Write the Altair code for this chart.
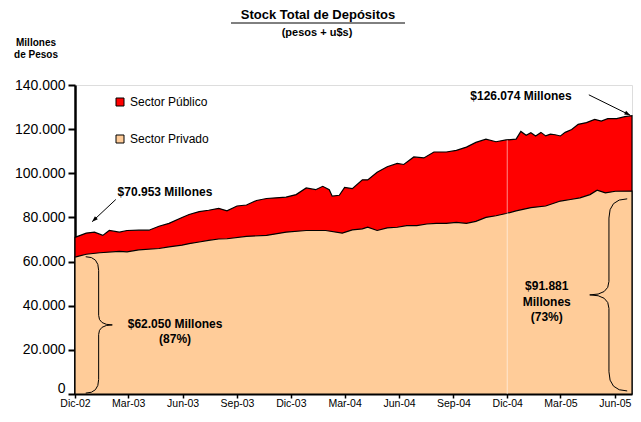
import altair as alt
import pandas as pd

# ---------------- data ----------------
dates_total = [
    "2002-12-01", "2002-12-20", "2003-01-03", "2003-01-17", "2003-01-28", "2003-02-14",
    "2003-02-27", "2003-03-19", "2003-04-05", "2003-04-22", "2003-05-09", "2003-05-31",
    "2003-06-12", "2003-06-29", "2003-07-15", "2003-08-01", "2003-08-15", "2003-09-01",
    "2003-09-17", "2003-10-04", "2003-10-21", "2003-11-06", "2003-11-23", "2003-12-10",
    "2003-12-27", "2004-01-12", "2004-01-24", "2004-02-04", "2004-02-09", "2004-02-21",
    "2004-03-01", "2004-03-14", "2004-03-31", "2004-04-09", "2004-04-25", "2004-05-12",
    "2004-05-29", "2004-06-09", "2004-06-26", "2004-07-13", "2004-07-30", "2004-08-20",
    "2004-09-06", "2004-09-23", "2004-10-09", "2004-10-26", "2004-11-12", "2004-11-29",
    "2004-12-16", "2004-12-24", "2005-01-02", "2005-01-10", "2005-01-18", "2005-01-27",
    "2005-02-04", "2005-02-12", "2005-02-20", "2005-03-01", "2005-03-09", "2005-03-20",
    "2005-03-31", "2005-04-14", "2005-04-28", "2005-05-09", "2005-05-20", "2005-06-04",
    "2005-06-18", "2005-06-30",
]
total_values = [
    70953, 72890, 73330, 71860, 74080, 73330,
    74080, 74220, 74220, 76000, 77330, 80000,
    81330, 82660, 83240, 84130, 82970, 85190,
    85640, 87690, 88570, 88880, 89190, 90350,
    93330, 92570, 94100, 92570, 89640, 90050,
    93640, 93030, 97020, 97020, 100440, 102970,
    104440, 103990, 107420, 106970, 109640, 109640,
    110350, 111860, 113990, 115450, 114300, 115100,
    115450, 118980, 117200, 118380, 116910, 118530,
    116930, 117760, 117460, 116910, 118530, 119800,
    122200, 122960, 124440, 123660, 124750, 124750,
    125640, 126074,
]

dates_privado = [
    "2002-12-01", "2002-12-20", "2003-01-12", "2003-02-14", "2003-02-27", "2003-03-19",
    "2003-04-22", "2003-05-09", "2003-05-31", "2003-06-12", "2003-06-29", "2003-07-15",
    "2003-08-01", "2003-08-15", "2003-09-17", "2003-10-21", "2003-11-23", "2003-12-27",
    "2004-01-29", "2004-02-26", "2004-03-14", "2004-03-31", "2004-04-09", "2004-04-25",
    "2004-05-12", "2004-05-29", "2004-06-14", "2004-07-01", "2004-07-18", "2004-08-03",
    "2004-08-20", "2004-09-06", "2004-09-23", "2004-10-09", "2004-10-26", "2004-11-12",
    "2004-11-29", "2004-12-16", "2005-01-10", "2005-02-04", "2005-03-01", "2005-03-18",
    "2005-04-03", "2005-04-20", "2005-05-02", "2005-05-16", "2005-06-02", "2005-06-30",
]
privado_values = [
    62050, 63330, 64000, 64660, 64440, 65330,
    65910, 66660, 67420, 68130, 68880, 69640,
    70220, 70350, 71420, 71860, 73330, 74080,
    74080, 72880, 74350, 74800, 75550, 74080,
    75240, 75550, 76310, 76310, 77020, 77330,
    77330, 77770, 77330, 78220, 80000, 80750,
    81770, 82970, 84440, 85190, 87420, 88130,
    88880, 90350, 92310, 91110, 91860, 91881,
]

series_names = ["Sector Público", "Sector Privado"]
series_colors = ["#FF0000", "#FFCC99"]

tick_dates = [(2002, 12), (2003, 3), (2003, 6), (2003, 9), (2003, 12), (2004, 3),
              (2004, 6), (2004, 9), (2004, 12), (2005, 3), (2005, 6)]
y_ticks = [0, 20000, 40000, 60000, 80000, 100000, 120000, 140000]

# annotation anchors (data space)
arrow_start_dates = ["2003-02-08", "2005-04-18"]
arrow_start_values = [88130, 135550]
arrow_end_dates = ["2002-12-30", "2005-06-27"]
arrow_end_values = [78080, 126300]
arrow_angles = [226.7, 118.0]

FONT = "Liberation Sans"

# ---------------- layout ----------------
OX, OY = 75, 85          # plot origin on the page
W, H = 557, 309          # plot area (whole svg: 625 x 402)


def rx(ref_x):
    return (ref_x - 75) * W / 562.0


def ry(ref_y):
    return (ref_y - 85) * H / 315.0


# ---------------- frames ----------------
df_total = pd.DataFrame({"fecha": pd.to_datetime(dates_total), "valor": total_values,
                         "serie": series_names[0]})
df_priv = pd.DataFrame({"fecha": pd.to_datetime(dates_privado), "valor": privado_values,
                        "serie": series_names[1]})

x_scale = alt.Scale(domain=[alt.DateTime(year=2002, month=12, date=1),
                            alt.DateTime(year=2005, month=6, date=30)], nice=False)
y_scale = alt.Scale(domain=[0, 140000], nice=False)
color_scale = alt.Scale(domain=series_names, range=series_colors)

x_axis = alt.Axis(
    values=[alt.DateTime(year=y, month=m, date=1) for y, m in tick_dates],
    labelExpr="['Ene','Feb','Mar','Abr','May','Jun','Jul','Ago','Sep','Oct','Nov','Dic'][month(datum.value)] + '-' + timeFormat(datum.value, '%y')",
    title=None, grid=False, tickSize=4, tickWidth=1.5, tickColor="black",
    domainColor="black", domainWidth=2, labelFont=FONT, labelFontSize=10.5,
    labelColor="black", labelPadding=0, labelFlush=False, labelOverlap=False,
)
y_axis = alt.Axis(
    values=y_ticks,
    labelExpr="datum.value == 0 ? '0' : format(datum.value / 1000, 'd') + '.000'",
    title=None, grid=False, tickSize=7, tickWidth=2, tickColor="black",
    domainColor="black", domainWidth=2.5, labelFont=FONT, labelFontSize=14,
    labelColor="black", labelPadding=3,
    labelOffset={"condition": {"test": "datum.value == 0", "value": -6}, "value": 0},
)
legend = alt.Legend(
    title=None, orient="none", legendX=39, legendY=11, symbolType="square",
    symbolSize=64, symbolStrokeColor="black", symbolStrokeWidth=1,
    labelFont=FONT, labelFontSize=12, labelColor="black", rowPadding=25,
    labelOffset=4, padding=0,
)

area_total = alt.Chart(df_total).mark_area(stroke="black", strokeWidth=1.2, opacity=1).encode(
    x=alt.X("fecha:T", scale=x_scale, axis=x_axis),
    y=alt.Y("valor:Q", scale=y_scale, axis=y_axis),
    color=alt.Color("serie:N", scale=color_scale, legend=legend),
)
area_priv = alt.Chart(df_priv).mark_area(stroke="black", strokeWidth=1.2, opacity=1).encode(
    x=alt.X("fecha:T", scale=x_scale),
    y=alt.Y("valor:Q", scale=y_scale),
    color=alt.Color("serie:N", scale=color_scale, legend=legend),
)

# faint white gridline at Dic-04
df_grid = pd.DataFrame({"fecha": pd.to_datetime(["2004-12-01"]), "lo": [0], "hi": [115000]})
grid_rule = alt.Chart(df_grid).mark_rule(color="white", strokeWidth=1, opacity=0.55).encode(
    x="fecha:T", y="lo:Q", y2="hi:Q")

# arrows
df_arrows = pd.DataFrame({
    "x0": pd.to_datetime(arrow_start_dates), "y0": arrow_start_values,
    "x1": pd.to_datetime(arrow_end_dates), "y1": arrow_end_values, "ang": arrow_angles,
})
arrow_lines = alt.Chart(df_arrows).mark_rule(color="black", strokeWidth=1).encode(
    x="x0:T", y="y0:Q", x2="x1:T", y2="y1:Q")
arrow_heads = alt.Chart(df_arrows).mark_point(
    shape="M 0 0 L -0.55 1.5 L 0.55 1.5 Z", filled=True, size=60, color="black", opacity=1
).encode(x="x1:T", y="y1:Q", angle=alt.Angle("ang:Q", scale=None))

# braces
brace_right = "M -0.19 -1 Q 0 -1 0 -0.8 L 0 -0.14 Q 0 0 0.2 0 Q 0 0 0 0.14 L 0 0.8 Q 0 1 -0.19 1"
brace_left = "M 0.19 -1 Q 0 -1 0 -0.8 L 0 -0.14 Q 0 0 -0.2 0 Q 0 0 0 0.14 L 0 0.8 Q 0 1 0.19 1"
df_b1 = pd.DataFrame({"fecha": pd.to_datetime(["2003-01-10"]), "v": [31300]})
df_b2 = pd.DataFrame({"fecha": pd.to_datetime(["2005-05-22"]), "v": [44900]})
brace1 = alt.Chart(df_b1).mark_point(shape=brace_right, filled=False, size=18600,
                                     color="black", strokeWidth=1, opacity=1).encode(
    x="fecha:T", y="v:Q")
brace2 = alt.Chart(df_b2).mark_point(shape=brace_left, filled=False, size=36900,
                                     color="black", strokeWidth=1, opacity=1).encode(
    x="fecha:T", y="v:Q")


def label(text, px, py, size=12, weight="bold", align="center"):
    d = pd.DataFrame({"t": [text]})
    return alt.Chart(d).mark_text(
        font=FONT, fontSize=size, fontWeight=weight, align=align, baseline="middle",
        color="black",
    ).encode(x=alt.value(px), y=alt.value(py), text="t:N")


texts = [
    label("Stock Total de Depósitos", 318 - OX, 15 - OY, size=13),
    label("(pesos + u$s)", 317 - OX, 33 - OY, size=11),
    label("Millones", 36 - OX, 43 - OY, size=10),
    label("de Pesos", 36 - OX, 55 - OY, size=10),
    label("$70.953 Millones", rx(118), ry(194), align="left"),
    label("$62.050 Millones", rx(176), ry(329)),
    label("(87%)", rx(176), ry(344)),
    label("$126.074 Millones", rx(525), ry(96)),
    label("$91.881", rx(551), ry(290)),
    label("Millones", rx(551), ry(306)),
    label("(73%)", rx(551), ry(322)),
]
underline = alt.Chart(pd.DataFrame({"a": [0]})).mark_rule(color="black", strokeWidth=1).encode(
    x=alt.value(231 - OX), x2=alt.value(405 - OX), y=alt.value(23 - OY))

chart = alt.layer(
    area_total, area_priv, grid_rule, arrow_lines, arrow_heads, brace1, brace2,
    underline, *texts,
).properties(
    width=W, height=H,
    autosize=alt.AutoSizeParams(type="none"),
    padding={"left": OX - 8, "top": OY - 8, "right": 1, "bottom": 16},
).configure_view(stroke=None).configure(font=FONT, background="white")

chart.save("out.html", embed_options={"renderer": "svg", "actions": False})
